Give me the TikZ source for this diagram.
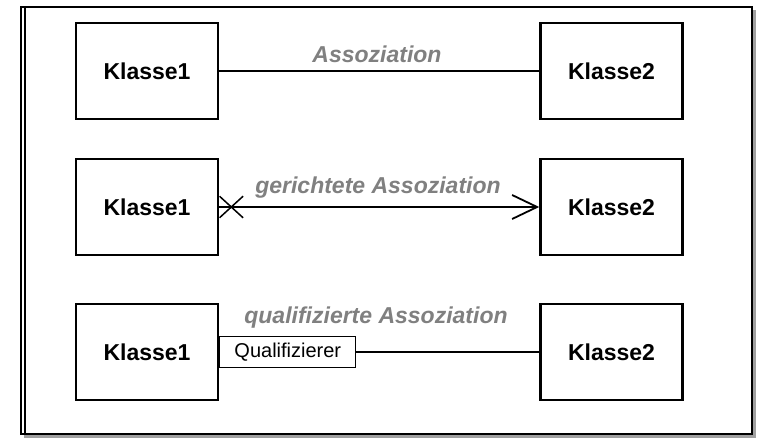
\documentclass[tikz,border=0pt]{standalone}
\usepackage{fontspec}
\setmainfont{Liberation Sans}
\usetikzlibrary{arrows.meta,shapes.misc}
\definecolor{labelgrey}{HTML}{808080}
\definecolor{shadowgrey}{HTML}{A0A0A0}
\tikzset{
  classbox/.style={draw, line width=2.6pt, minimum width=142pt, minimum height=96pt,
    inner sep=0pt, font=\fontsize{23}{23}\selectfont\bfseries},
  assoc/.style={line width=1.8pt},
  assoclabel/.style={anchor=base, inner sep=0pt, text=labelgrey,
    font=\fontsize{23}{23}\selectfont\bfseries\itshape},
  qualbox/.style={draw, line width=1pt, minimum width=136pt, minimum height=31pt,
    inner sep=0pt, anchor=west, font=\fontsize{20}{20}\selectfont},
  crossmark/.style={cross out, draw, line width=1.5pt, minimum width=22pt,
    minimum height=20pt, inner sep=0pt},
}
\begin{document}
\begin{tikzpicture}[x=1pt,y=-1pt]
  \useasboundingbox (0,0) rectangle (757,438);
  % frame with shadow
  \fill[shadowgrey] (24,10) rectangle (756,437.5);
  \fill[white] (21,7) rectangle (752,434);
  \draw[line width=2pt] (21,7) rectangle (752,434);
  \draw[line width=1.2pt] (25,7) -- (25,434);

  % row 1: association
  \node[classbox] (k1a) at (147,71) {Klasse1};
  \node[classbox] (k2a) at (611.5,71) {Klasse2};
  \draw[assoc] (k1a) -- (k2a);
  \node[assoclabel] (la) at (377,63) {Assoziation};

  % row 2: directed association
  \node[classbox] (k1b) at (147,207) {Klasse1};
  \node[classbox] (k2b) at (611.5,207) {Klasse2};
  \draw[assoc, -{Straight Barb[length=25pt,width=24pt,line width=1.8pt]}] (k1b) -- (k2b);
  \node[crossmark] (xb) at ([xshift=12pt]k1b.east) {};
  \node[assoclabel] (lb) at (378,194) {gerichtete Assoziation};

  % row 3: qualified association
  \node[classbox] (k1c) at (147,352) {Klasse1};
  \node[classbox] (k2c) at (611.5,352) {Klasse2};
  \node[qualbox] (q) at (k1c.east) {Qualifizierer};
  \draw[assoc] (q) -- (k2c);
  \node[assoclabel] (lc) at (376,323) {qualifizierte Assoziation};
\end{tikzpicture}
\end{document}
